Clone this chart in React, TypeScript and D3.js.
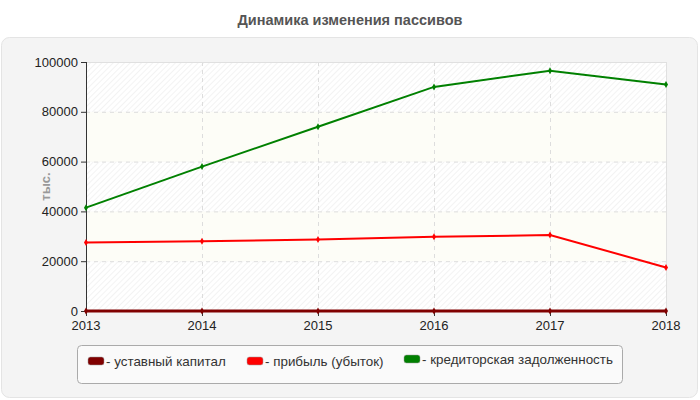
import React from 'react';
import * as d3 from 'd3';

const years = [2013, 2014, 2015, 2016, 2017, 2018];
const capital = [0, 0, 0, 0, 0, 0];
const profit = [27500, 28000, 28700, 29800, 30500, 17500];
const payables = [41500, 58000, 74000, 90000, 96500, 91000];
const yTicks = [0, 20000, 40000, 60000, 80000, 100000];

const seriesList = [
    { name: 'уставный капитал', color: '#800000', values: capital, width: 3 },
    { name: 'прибыль (убыток)', color: '#ff0000', values: profit, width: 2 },
    { name: 'кредиторская задолженность', color: '#008000', values: payables, width: 2 },
];

const W = 700;
const H = 400;
const margin = { top: 62, right: 34, bottom: 89, left: 86 };
const font = '"Liberation Sans", Arial, sans-serif';

const App: React.FC = () => {
    const x = d3.scaleLinear()
        .domain([years[0], years[years.length - 1]])
        .range([margin.left, W - margin.right]);
    const y = d3.scaleLinear()
        .domain([0, 100000])
        .range([H - margin.bottom, margin.top]);

    const line = d3.line<number>()
        .x((_, i) => x(years[i]))
        .y(d => y(d));

    const marker = d3.symbol().type(d3.symbolDiamond).size(14)() || '';

    // legend swatch x positions
    const legendX = [88, 247, 404];

    return (
        <svg width={W} height={H} style={{ position: 'absolute', left: 0, top: 0 }}>
            <defs>
                <pattern id="hatch" width="4" height="4" patternUnits="userSpaceOnUse" patternTransform="rotate(45)">
                    <rect width="4" height="4" fill="#ffffff" />
                    <line x1="0" y1="0" x2="0" y2="4" stroke="#ececec" strokeWidth="1.2" />
                </pattern>
            </defs>
            <rect x={0} y={0} width={W} height={H} fill="#ffffff" />
            <text x={W / 2} y={25} textAnchor="middle" fontFamily={font} fontSize={14.5}
                fontWeight="bold" fill="#555555">Динамика изменения пассивов</text>
            <rect x={1.5} y={37.5} width={696} height={360} rx={8} fill="#f4f4f4" stroke="#e4e4e4" />

            {/* bands */}
            {yTicks.slice(0, -1).map((t, i) => (
                <rect key={t} x={x(years[0])} y={y(yTicks[i + 1])}
                    width={x(years[years.length - 1]) - x(years[0])}
                    height={y(t) - y(yTicks[i + 1])}
                    fill={i % 2 === 0 ? 'url(#hatch)' : '#fdfdf7'} />
            ))}
            {/* grid */}
            {yTicks.slice(1, -1).map(t => (
                <line key={t} x1={x(years[0])} x2={x(years[years.length - 1])} y1={y(t) + 0.5} y2={y(t) + 0.5}
                    stroke="#dddddd" strokeDasharray="4,4" />
            ))}
            {years.slice(1, -1).map(yr => (
                <line key={yr} x1={x(yr) + 0.5} x2={x(yr) + 0.5} y1={y(100000)} y2={y(0)}
                    stroke="#dddddd" strokeDasharray="4,4" />
            ))}
            <line x1={x(years[0])} x2={x(years[years.length - 1])} y1={y(100000) + 0.5} y2={y(100000) + 0.5} stroke="#e0e0e0" />
            <line x1={x(years[years.length - 1]) + 0.5} x2={x(years[years.length - 1]) + 0.5} y1={y(100000)} y2={y(0)} stroke="#e0e0e0" />

            {/* axes */}
            <line x1={x(years[0]) + 0.5} x2={x(years[0]) + 0.5} y1={y(100000)} y2={y(0)} stroke="#333333" />
            <line x1={x(years[0])} x2={x(years[years.length - 1])} y1={y(0) + 0.5} y2={y(0) + 0.5} stroke="#333333" />
            {yTicks.map(t => (
                <g key={t}>
                    <line x1={x(years[0]) - 5} x2={x(years[0])} y1={y(t) + 0.5} y2={y(t) + 0.5} stroke="#333333" />
                    <text x={x(years[0]) - 8} y={y(t) + 4.5} textAnchor="end" fontFamily={font} fontSize={13} fill="#222222">{t}</text>
                </g>
            ))}
            {years.map(yr => (
                <g key={yr}>
                    <line x1={x(yr) + 0.5} x2={x(yr) + 0.5} y1={y(0)} y2={y(0) + 5} stroke="#333333" />
                    <text x={x(yr)} y={y(0) + 19} textAnchor="middle" fontFamily={font} fontSize={13} fill="#222222">{yr}</text>
                </g>
            ))}
            <text transform={`translate(50, ${(y(0) + y(100000)) / 2}) rotate(-90)`} textAnchor="middle"
                fontFamily={font} fontSize={13} fontWeight="bold" fill="#999999">тыс.</text>

            {/* lines */}
            {seriesList.map(s => (
                <g key={s.name}>
                    <path d={line(s.values) || ''} fill="none" stroke={s.color} strokeWidth={s.width} />
                    {s.values.map((v, i) => (
                        <path key={i} d={marker} transform={`translate(${x(years[i])},${y(v)})`} fill={s.color} />
                    ))}
                </g>
            ))}

            {/* legend */}
            <rect x={77.5} y={345.5} width={545} height={38} rx={4} fill="#fafafa" stroke="#aaaaaa" />
            {seriesList.map((s, i) => (
                <g key={s.name} transform={`translate(${legendX[i]}, ${i === 2 ? 359 : 361})`}>
                    <rect x={0} y={-4} width={16} height={8} rx={2.5} fill={s.color} stroke="#999999" strokeWidth={0.5} />
                    <text x={18} y={4.5} fontFamily={font} fontSize={13.4} fill="#333333">- {s.name}</text>
                </g>
            ))}
        </svg>
    );
};

export default App;
